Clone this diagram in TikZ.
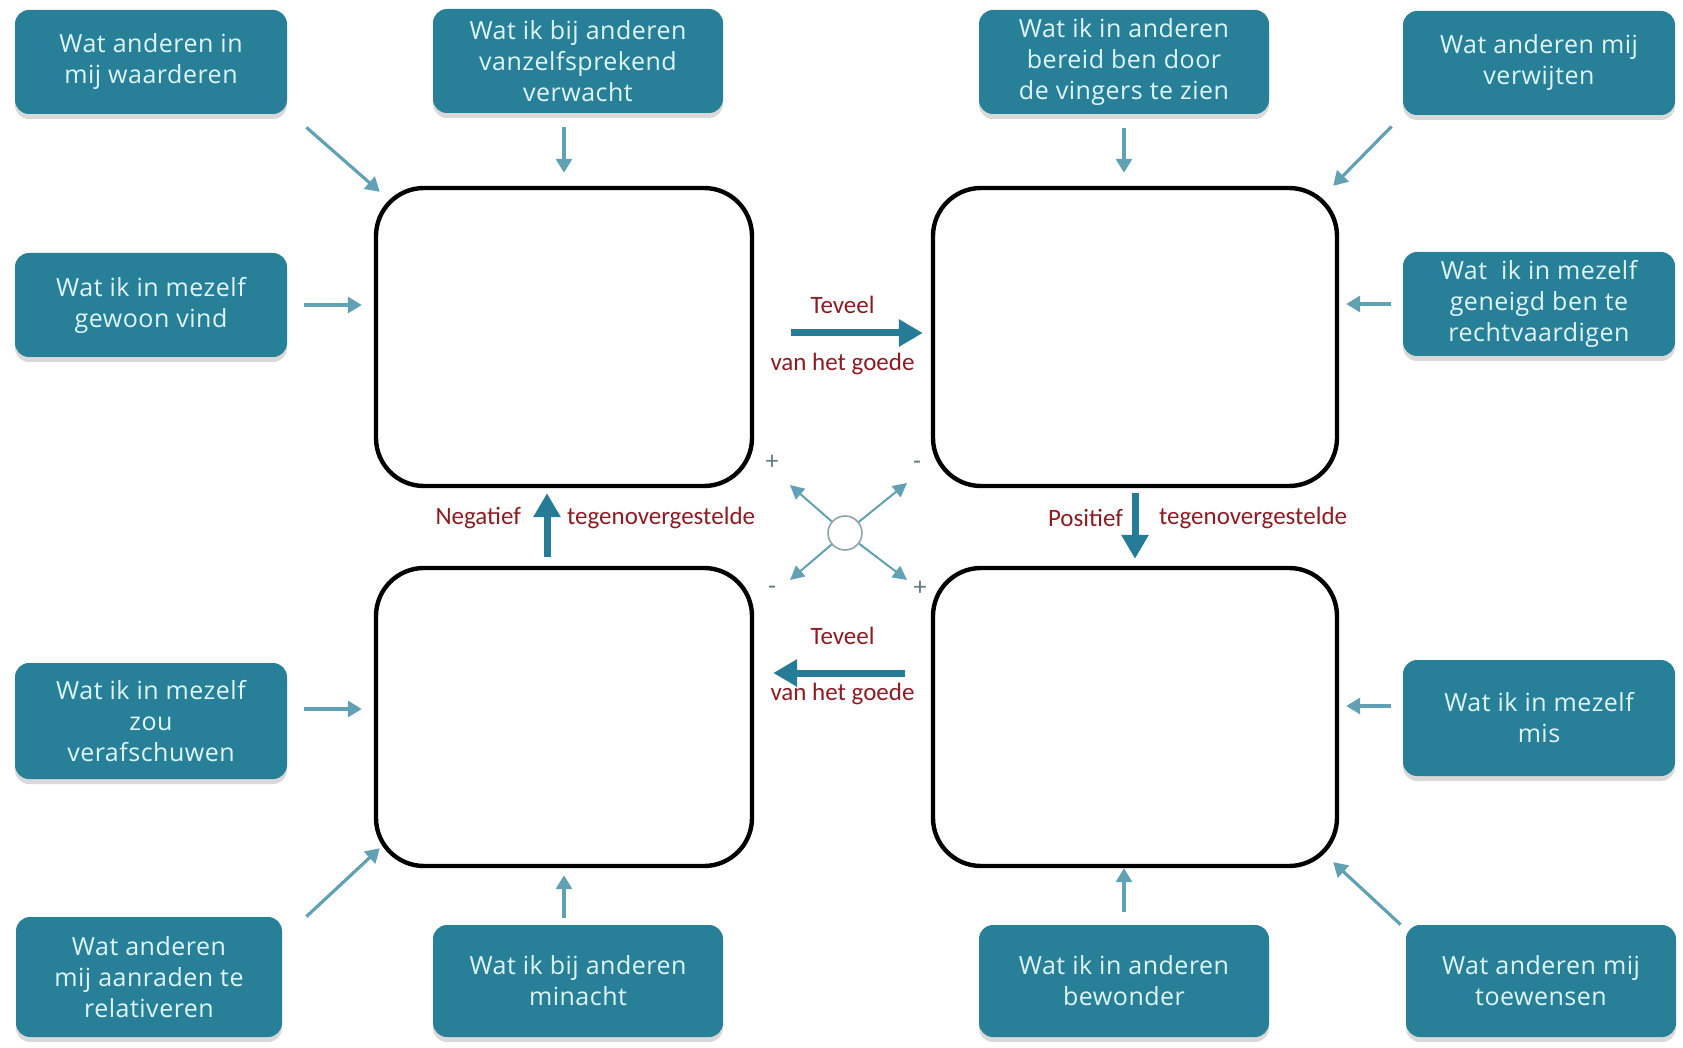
\documentclass[tikz,border=0pt]{standalone}
\usepackage{fontspec}
\setmainfont{Carlito}
\newfontfamily\boxfont[LetterSpace=2]{Open Sans}
\usetikzlibrary{arrows.meta, calc, positioning, shadows}

\definecolor{boxblue}{RGB}{40,128,152}
\definecolor{boxtext}{RGB}{222,246,250}
\definecolor{linkteal}{RGB}{98,160,180}
\definecolor{flowteal}{RGB}{38,124,150}
\definecolor{labelred}{RGB}{140,28,34}
\definecolor{signgray}{RGB}{95,125,130}

\begin{document}
\begin{tikzpicture}[x=0.5pt, y=-0.5pt,
  infobox/.style={fill=boxblue, text=boxtext, rounded corners=7pt, align=center, inner sep=2pt,
    font=\boxfont\fontsize{12.5}{15.5}\selectfont, minimum height=52pt,
    drop shadow={opacity=0.3, shadow xshift=0pt, shadow yshift=-2.5pt}},
  sidebox/.style={infobox, minimum width=136pt},
  midbox/.style={infobox, minimum width=145pt},
  quadrant/.style={draw, line width=2.2pt, fill=white, rounded corners=24pt, minimum height=149pt},
  link/.style={draw=linkteal, line width=1.6pt, -{Triangle[length=7pt, width=8pt]}},
  flow/.style={draw=flowteal, line width=3.5pt, -{Triangle[length=12pt, width=13pt]}},
  flowlabel/.style={text=labelred, font=\fontsize{12.5}{14}\selectfont},
  sign/.style={text=signgray, font=\fontsize{13}{14}\selectfont},
  spoke/.style={draw=linkteal, line width=1pt, -{Triangle[length=7pt, width=7pt]}}
]
\useasboundingbox (0,0) rectangle (1683,1048);

\node[sidebox] (waarderen) at (151,62) {Wat anderen in\\mij waarderen};
\node[midbox] (verwacht) at (578,61) {Wat ik bij anderen\\vanzelfsprekend\\verwacht};
\node[midbox] (vingers) at (1124,62) {Wat ik in anderen\\bereid ben door\\de vingers te zien};
\node[sidebox] (verwijten) at (1539,63) {Wat anderen mij\\verwijten};
\node[sidebox] (gewoon) at (151,305) {Wat ik in mezelf\\gewoon vind};
\node[sidebox] (rechtvaardigen) at (1539,304) {Wat\ \ ik in mezelf\\geneigd ben te\\rechtvaardigen};
\node[sidebox, minimum height=58pt] (verafschuwen) at (151,721) {Wat ik in mezelf\\zou\\verafschuwen};
\node[sidebox, minimum height=58pt] (mis) at (1539,718) {Wat ik in mezelf\\mis};
\node[sidebox, minimum width=133pt, minimum height=60pt] (relativeren) at (149,977) {Wat anderen\\mij aanraden te\\relativeren};
\node[midbox, minimum height=56pt] (minacht) at (578,981) {Wat ik bij anderen\\minacht};
\node[midbox, minimum height=56pt] (bewonder) at (1124,981) {Wat ik in anderen\\bewonder};
\node[sidebox, minimum width=135pt, minimum height=56pt] (toewensen) at (1541,981) {Wat anderen mij\\toewensen};

\node[quadrant, minimum width=188pt] (kwaliteit) at (564,337) {};
\node[quadrant, minimum width=202pt] (valkuil) at (1135,337) {};
\node[quadrant, minimum width=188pt] (allergie) at (564,717) {};
\node[quadrant, minimum width=202pt] (uitdaging) at (1135,717) {};

\draw[link] ([shift={(9.5pt,-6.5pt)}]waarderen.south east) -- ([shift={(3pt,-3pt)}]kwaliteit.north west);
\draw[link, shorten <=7pt, shorten >=6.5pt] (verwacht.south -| kwaliteit) -- (kwaliteit.north);
\draw[link, shorten <=7pt, shorten >=6.5pt] (vingers.south) -- (vingers.south |- valkuil.north);
\draw[link] ([shift={(-5.5pt,-5.5pt)}]verwijten.south west) -- ([shift={(-3pt,0pt)}]valkuil.north east);
\draw[link, shorten <=8.5pt, shorten >=6pt] (gewoon.east) -- (gewoon.east -| kwaliteit.west);
\draw[link, shorten <=6pt, shorten >=3.5pt] (rechtvaardigen.west) -- (rechtvaardigen.west -| valkuil.east);
\draw[link, shorten <=8.5pt, shorten >=6pt] ([yshift=6pt]verafschuwen.east) -- ([yshift=6pt]verafschuwen.east -| allergie.west);
\draw[link, shorten <=6pt, shorten >=3.5pt] ([yshift=6pt]mis.west) -- ([yshift=6pt]mis.west -| uitdaging.east);
\draw[link] ([xshift=12pt]relativeren.north east) -- ([shift={(3pt,10pt)}]allergie.south west);
\draw[link, shorten <=3.5pt, shorten >=3.5pt] (minacht.north -| allergie) -- (allergie.south);
\draw[link, shorten <=6.5pt] (bewonder.north) -- (bewonder.north |- uitdaging.south);
\draw[link] ([xshift=-2.5pt]toewensen.north west) -- ([shift={(-3pt,3pt)}]uitdaging.south east);

\draw[flow, shorten <=18.5pt, shorten >=4pt] ([yshift=2pt]kwaliteit.east) -- ([yshift=2pt]valkuil.west)
  node[flowlabel, midway, yshift=14pt] (teveel1) {Teveel}
  node[flowlabel, midway, yshift=-15.5pt] (goede1) {van het goede};
\draw[flow, shorten <=13pt, shorten >=9.5pt] ([yshift=22pt]uitdaging.west) -- ([yshift=22pt]allergie.east)
  node[flowlabel, midway, yshift=18.5pt] (teveel2) {Teveel}
  node[flowlabel, midway, yshift=-10.5pt] (goede2) {van het goede};
\draw[flow, shorten <=4.5pt, shorten >=2.5pt] ([xshift=-8.5pt]allergie.north) -- ([xshift=-8.5pt]kwaliteit.south);
\draw[flow, shorten <=2.5pt, shorten >=3.5pt] (valkuil.south) -- (uitdaging.north);
\node[flowlabel, anchor=east] (negatief) at (528,518) {Negatief};
\node[flowlabel, anchor=west] (tegen1) at (560,518) {tegenovergestelde};
\node[flowlabel, anchor=east] (positief) at (1130,518) {Positief};
\node[flowlabel, anchor=west] (tegen2) at (1152,518) {tegenovergestelde};

\node[circle, draw=signgray!70, line width=0.8pt, minimum size=17pt, inner sep=0pt] (hub) at (845,533) {};
\coordinate (hubnw) at (790,485);
\coordinate (hubne) at (907,483);
\coordinate (hubsw) at (790,580);
\coordinate (hubse) at (907,580);
\draw[spoke] (hub) -- (hubnw);
\draw[spoke] (hub) -- (hubne);
\draw[spoke] (hub) -- (hubsw);
\draw[spoke] (hub) -- (hubse);
\node[sign] (plusnw) at (772,462) {+};
\node[sign] (minne) at (917,465) {-};
\node[sign] (minsw) at (772,590) {-};
\node[sign] (plusse) at (920,588) {+};
\end{tikzpicture}
\end{document}
